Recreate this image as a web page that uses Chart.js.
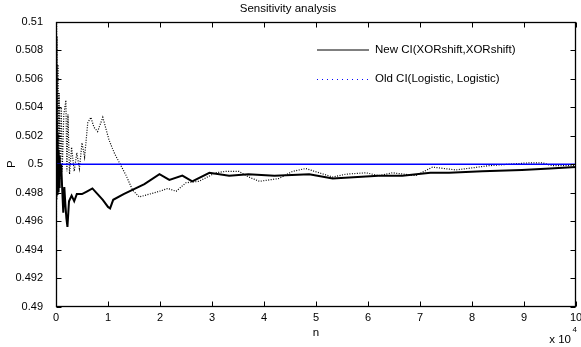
<!DOCTYPE html>
<html>
<head>
<meta charset="utf-8">
<script src="https://cdn.jsdelivr.net/npm/chart.js@4.4.0/dist/chart.umd.min.js"></script>
<style>
    html, body { margin: 0; padding: 0; background: #fff; }
</style>
</head>
<body>
<canvas id="Wykres" width="581" height="347"></canvas>
<script>
// n (x 10^4) and P for the new CI
const nNew = [0, 0.005, 0.01, 0.015, 0.02, 0.03, 0.04, 0.05, 0.06, 0.07,
    0.08, 0.1, 0.12, 0.14, 0.16, 0.18, 0.2, 0.22, 0.25, 0.3,
    0.35, 0.4, 0.5, 0.6, 0.7, 0.8, 0.9, 1.0, 1.04, 1.1,
    1.3, 1.47, 1.7, 1.99, 2.18, 2.43, 2.62, 2.95, 3.33, 3.7,
    4.2, 4.87, 5.32, 5.8, 6.2, 6.66, 7.2, 7.56, 8.2, 8.96,
    9.5, 10];
const pNew = [0.5, 0.503, 0.4978, 0.5025, 0.4979, 0.5022, 0.4981, 0.501, 0.4984, 0.5006,
    0.4992, 0.5, 0.4982, 0.4966, 0.4984, 0.4972, 0.4962, 0.4956, 0.4974, 0.4978,
    0.4974, 0.4979, 0.4979, 0.4981, 0.4983, 0.4979, 0.4975, 0.4970, 0.4969, 0.4975,
    0.4979, 0.4982, 0.4986, 0.4993, 0.4989, 0.4992, 0.4988, 0.4994, 0.4992, 0.4993,
    0.4992, 0.4993, 0.4990, 0.4991, 0.4992, 0.4992, 0.4994, 0.4994, 0.4995, 0.4996,
    0.4997, 0.4998];

// n (x 10^4) and P for the old CI
const nOld = [0, 0.004, 0.008, 0.012, 0.016, 0.02, 0.03, 0.04, 0.05, 0.06,
    0.08, 0.1, 0.12, 0.15, 0.19, 0.21, 0.23, 0.26, 0.3, 0.35,
    0.4, 0.45, 0.5, 0.55, 0.61, 0.67, 0.73, 0.8, 0.9, 1.02,
    1.12, 1.22, 1.35, 1.47, 1.6, 1.8, 1.99, 2.15, 2.31, 2.5,
    2.75, 3.07, 3.27, 3.52, 3.71, 3.91, 4.1, 4.29, 4.55, 4.8,
    5.06, 5.32, 5.57, 5.96, 6.21, 6.47, 6.92, 7.24, 7.69, 8.33,
    8.7, 9.1, 9.35, 9.54, 9.93, 10];
const pOld = [0.485, 0.515, 0.492, 0.511, 0.4975, 0.509, 0.498, 0.507, 0.4985, 0.505,
    0.499, 0.504, 0.4995, 0.5035, 0.5045, 0.4995, 0.5035, 0.4993, 0.5012, 0.4995,
    0.5008, 0.4997, 0.5015, 0.5005, 0.5029, 0.5033, 0.5026, 0.5023, 0.5033, 0.5017,
    0.5008, 0.5001, 0.4992, 0.4982, 0.4977, 0.4979, 0.4981, 0.4983, 0.4981, 0.4987,
    0.4988, 0.4994, 0.4995, 0.4995, 0.4991, 0.4988, 0.4989, 0.499, 0.4995, 0.4997,
    0.4994, 0.4991, 0.4993, 0.4994, 0.4992, 0.4994, 0.4992, 0.4998, 0.4996, 0.4999,
    0.5, 0.5001, 0.5001, 0.4999, 0.4999, 0.4999];

// reference line P = 0.5
const nRef = [0, 10];
const pRef = [0.5, 0.5];

const xTicks = [0, 1, 2, 3, 4, 5, 6, 7, 8, 9, 10];
const yTicks = [0.49, 0.492, 0.494, 0.496, 0.498, 0.5, 0.502, 0.504, 0.506, 0.508, 0.51];
const seriesNames = ['New CI(XORshift,XORshift)', 'Old CI(Logistic, Logistic)'];

const FONT = 'Liberation Sans, Arial, sans-serif';

function pary(xs, ys) {
    return xs.map((x, i) => ({ x: x, y: ys[i] }));
}

// frame, inward ticks, legend and the x 10^4 note
const ramka = {
    id: 'ramka',
    afterDraw(chart) {
        const ctx = chart.ctx;
        const a = chart.chartArea;
        const sx = chart.scales.x, sy = chart.scales.y;
        const L = Math.round(a.left) + 0.5, R = Math.round(a.right) - 0.5;
        const T = Math.round(a.top) + 0.5, B = Math.round(a.bottom) - 0.5;
        ctx.save();
        ctx.strokeStyle = '#000';
        ctx.lineWidth = 1;
        ctx.beginPath();
        xTicks.forEach(v => {
            const px = Math.round(sx.getPixelForValue(v)) + 0.5;
            ctx.moveTo(px, B); ctx.lineTo(px, B - 5);
            ctx.moveTo(px, T); ctx.lineTo(px, T + 5);
        });
        yTicks.forEach(v => {
            const py = Math.round(sy.getPixelForValue(v)) + 0.5;
            ctx.moveTo(L, py); ctx.lineTo(L + 5, py);
            ctx.moveTo(R, py); ctx.lineTo(R - 5, py);
        });
        ctx.stroke();
        ctx.lineWidth = 1.3;
        ctx.strokeRect(L, T, R - L, B - T);

        // legend
        const lx0 = a.right - 259, lx1 = a.right - 207, tx = a.right - 201;
        const ly = [a.top + 28, a.top + 57];
        ctx.lineWidth = 1;
        ctx.strokeStyle = '#000';
        ctx.beginPath();
        ctx.moveTo(lx0, ly[0]); ctx.lineTo(lx1, ly[0]);
        ctx.stroke();
        ctx.strokeStyle = '#0000ff';
        ctx.setLineDash([1, 4]);
        ctx.beginPath();
        ctx.moveTo(lx0, ly[1] + 0.5); ctx.lineTo(lx1, ly[1] + 0.5);
        ctx.stroke();
        ctx.setLineDash([]);
        ctx.fillStyle = '#000';
        ctx.font = '11.5px ' + FONT;
        ctx.textBaseline = 'middle';
        ctx.textAlign = 'left';
        ctx.fillText(seriesNames[0], tx, ly[0]);
        ctx.fillText(seriesNames[1], tx, ly[1]);

        // x 10^4
        ctx.textAlign = 'right';
        ctx.fillText('x 10', 571, 340);
        ctx.textAlign = 'left';
        ctx.font = '8px ' + FONT;
        ctx.fillText('4', 572.5, 329.5);
        ctx.restore();
    }
};

document.addEventListener("DOMContentLoaded", function() {
    const ctx = document.getElementById('Wykres').getContext('2d');
    new Chart(ctx, {
        type: 'line',
        data: {
            datasets: [{
                label: 'P = 0.5',
                data: pary(nRef, pRef),
                borderColor: '#0000ff',
                borderWidth: 1.5
            }, {
                label: seriesNames[0],
                data: pary(nNew, pNew),
                borderColor: '#000',
                borderWidth: 2
            }, {
                label: seriesNames[1],
                data: pary(nOld, pOld),
                borderColor: '#000',
                borderWidth: 1.2,
                borderDash: [1, 1.5]
            }]
        },
        options: {
            responsive: false,
            animation: false,
            layout: { padding: { left: 0, right: 5, top: 0, bottom: 0 } },
            elements: { point: { radius: 0 }, line: { tension: 0 } },
            plugins: {
                legend: { display: false },
                tooltip: { enabled: false },
                title: {
                    display: true,
                    text: 'Sensitivity analysis',
                    color: '#000',
                    font: { family: FONT, size: 11.5, weight: 'normal' },
                    padding: { top: 1.5, bottom: 6.7 }
                }
            },
            scales: {
                x: {
                    type: 'linear',
                    min: 0,
                    max: 10,
                    grid: { display: false },
                    border: { display: false },
                    afterBuildTicks: s => { s.ticks = xTicks.map(v => ({ value: v })); },
                    afterFit: s => { s.height = 40.5; s.paddingLeft = 0; s.paddingRight = 0; },
                    ticks: {
                        color: '#000',
                        padding: -3,
                        maxRotation: 0,
                        font: { family: FONT, size: 11 },
                        callback: v => String(v)
                    },
                    title: {
                        display: true,
                        text: 'n',
                        color: '#000',
                        font: { family: FONT, size: 11.5 },
                        padding: { top: 0, bottom: 7 }
                    }
                },
                y: {
                    min: 0.49,
                    max: 0.51,
                    grid: { display: false },
                    border: { display: false },
                    afterBuildTicks: s => { s.ticks = yTicks.map(v => ({ value: v })); },
                    afterFit: s => { s.width = 56; s.paddingTop = 0; s.paddingBottom = 0; },
                    ticks: {
                        color: '#000',
                        padding: 5,
                        font: { family: FONT, size: 11 },
                        callback: v => String(+v.toFixed(3))
                    },
                    title: {
                        display: true,
                        text: 'P',
                        color: '#000',
                        font: { family: FONT, size: 11.5 },
                        padding: { top: 5, bottom: 0 }
                    }
                }
            }
        },
        plugins: [ramka]
    });
});
</script>
</body>
</html>
